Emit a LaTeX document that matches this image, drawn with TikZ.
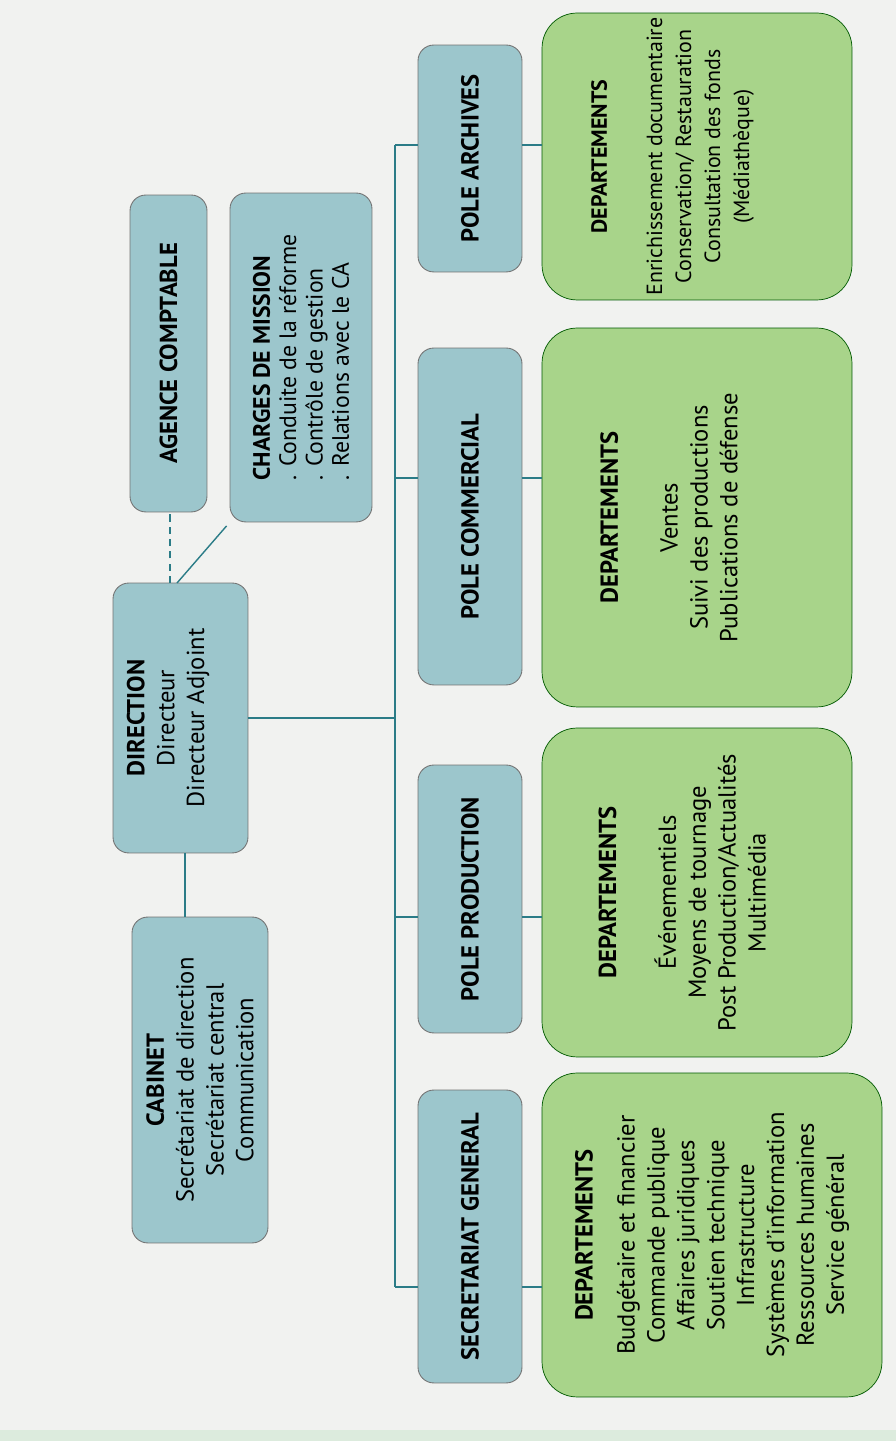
\documentclass[tikz,border=0pt]{standalone}
\usepackage{fontspec}
\setmainfont{PT Sans}
\definecolor{paper}{HTML}{F1F2F0}
\definecolor{paperstrip}{HTML}{DCEBDD}
\definecolor{unitblue}{HTML}{9CC6CC}
\definecolor{deptgreen}{HTML}{A8D48A}
\definecolor{linkteal}{HTML}{2B7C87}
\tikzset{
  unit/.style={draw=black!55, line width=.5pt, fill=unitblue, rounded corners=9pt,
    inner sep=0pt, outer sep=0pt, align=center, font=\fontsize{14}{17}\selectfont},
  pole/.style={unit, minimum height=2.08cm},
  dept/.style={draw=green!35!black, line width=.4pt, fill=deptgreen, rounded corners=20pt,
    inner sep=0pt, outer sep=0pt, align=center, minimum height=6.2cm,
    font=\fontsize{14}{17}\selectfont},
  link/.style={linkteal, line width=.8pt},
}
\begin{document}
\begin{tikzpicture}[x=0.02cm,y=0.02cm]
\fill[paper] (0,0) rectangle (896,1441);
\fill[paperstrip] (0,0) rectangle (896,11);
\useasboundingbox (0,0) rectangle (896,1441);
% chart is laid out lying on its side
\begin{scope}[rotate=90,transform shape]
  % direction and its staff
  \node[unit, minimum width=6.52cm, minimum height=2.72cm] (cabinet) at (361,-200)
    {\textbf{CABINET}\\Secrétariat de direction\\Secrétariat central\\Communication};
  \node[unit, minimum width=5.4cm, minimum height=2.7cm] (direction) at (723,-180.5)
    {\textbf{DIRECTION}\\Directeur\\Directeur Adjoint\\\mbox{}};
  \node[unit, minimum width=6.34cm, minimum height=1.54cm] (agence) at (1087.5,-168.5)
    {\textbf{AGENCE COMPTABLE}};
  \node[unit, align=left, minimum width=6.58cm, minimum height=2.84cm,
    font=\fontsize{13.5}{15}\selectfont] (charges) at (1083.5,-301)
    {\textbf{CHARGES DE MISSION}\\. Conduite de la réforme\\. Contrôle de gestion\\. Relations avec le CA};
  % poles
  \node[pole, minimum width=4.54cm] (pa) at (1282.5,-470) {\textbf{POLE ARCHIVES}};
  \node[pole, minimum width=6.74cm] (pc) at (924.5,-470) {\textbf{POLE COMMERCIAL}};
  \node[pole, minimum width=5.36cm] (pp) at (542,-470) {\textbf{POLE PRODUCTION}};
  \node[pole, minimum width=5.86cm] (sg) at (204.5,-470) {\textbf{SECRETARIAT GENERAL}};
  % departements
  \node[dept, minimum width=5.74cm, font=\fontsize{12.5}{16.5}\selectfont] (da) at (1284.5,-697)
    {\textbf{DEPARTEMENTS}\\[15pt]Enrichissement documentaire\\Conservation/ Restauration\\Consultation des fonds\\(Médiathèque)\\[14pt]\mbox{}};
  \node[dept, minimum width=7.58cm] (dc) at (923.5,-697)
    {\textbf{DEPARTEMENTS}\\[17pt]Ventes\\Suivi des productions\\Publications de défense\\[15pt]\mbox{}};
  \node[dept, minimum width=6.58cm] (dp) at (548.5,-697)
    {\textbf{DEPARTEMENTS}\\[17pt]Événementiels\\Moyens de tournage\\Post Production/Actualités\\Multimédia\\\mbox{}};
  \node[dept, minimum width=6.48cm, minimum height=6.8cm] (dsg) at (206,-712)
    {\textbf{DEPARTEMENTS}\\[7pt]Budgétaire et financier\\Commande publique\\Affaires juridiques\\Soutien technique\\Infrastructure\\Systèmes d’information\\Ressources humaines\\Service général};
  % trunk
  \coordinate (ta) at (1296,-395);
  \coordinate (tc) at (963,-395);
  \coordinate (tp) at (524,-395);
  \coordinate (tsg) at (154,-395);
  \draw[link] (ta) -- (tsg);
  \draw[link] (direction.south) -- (direction.south |- ta);
  \draw[link] (direction.west |- 0,-185) -- (cabinet.east |- 0,-185);
  \draw[link, dash pattern=on 4pt off 3pt] (direction.east |- 0,-170) -- (agence.west |- 0,-170);
  \draw[link, shorten >=3pt] (direction.east |- 0,-177) -- (charges.north west);
  \foreach \t/\p/\d in {ta/pa/da, tc/pc/dc, tp/pp/dp, tsg/sg/dsg} {
    \draw[link] (\t) -- (\t |- \p.north);
    \draw[link] (\t |- \p.south) -- (\t |- \d.north);
  }
\end{scope}
\end{tikzpicture}
\end{document}
